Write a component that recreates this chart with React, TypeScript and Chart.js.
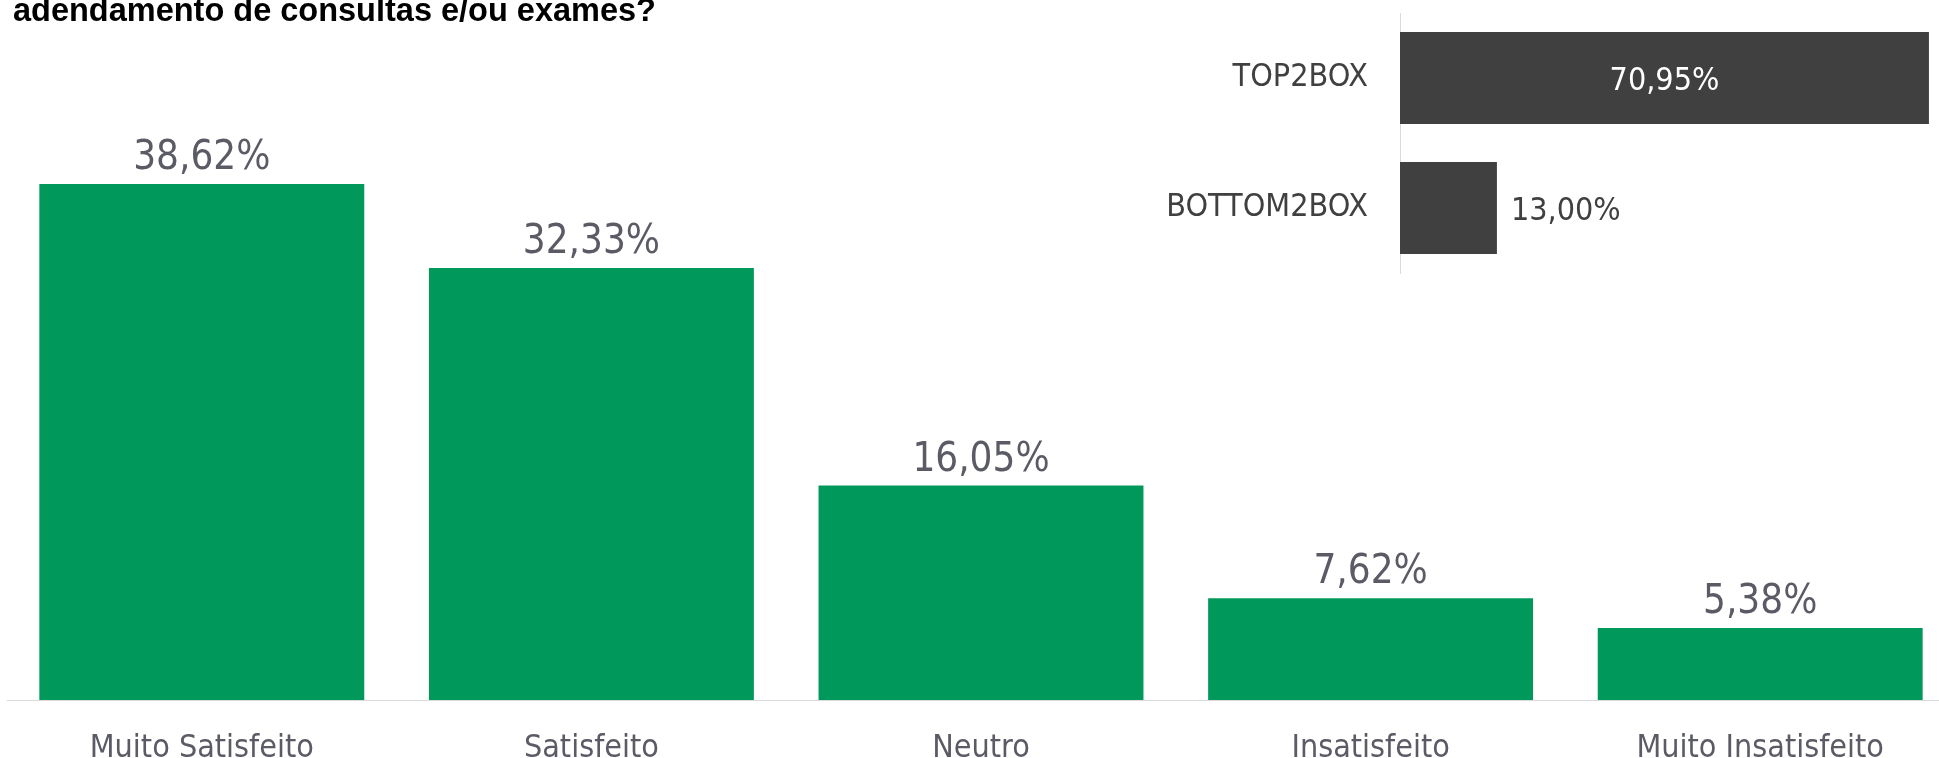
import React, { useEffect, useRef } from "react";
import { Chart, registerables } from "chart.js";

Chart.register(...registerables);

// ---- data ----
const categories = ["Muito Satisfeito", "Satisfeito", "Neutro", "Insatisfeito", "Muito Insatisfeito"];
const values = [38.62, 32.33, 16.05, 7.62, 5.38];
const boxCategories = ["TOP2BOX", "BOTTOM2BOX"];
const boxValues = [70.95, 13.0];
const titleText = "adendamento de consultas e/ou exames?";

const FONT = "'DejaVu Sans Condensed', 'DejaVu Sans', sans-serif";
const GREEN = "#00985B";
const DARK = "#404040";
const LABEL_GRAY = "#5b5b66";
const AXIS_GRAY = "#d9d9d9";

const fmt = (v: number) => v.toFixed(2).replace(".", ",") + "%";

const mainLabelsPlugin = {
  id: "mainLabels",
  afterDatasetsDraw(chart: any) {
    const ctx = chart.ctx;
    const meta = chart.getDatasetMeta(0);
    ctx.save();
    ctx.font = `40px ${FONT}`;
    ctx.fillStyle = LABEL_GRAY;
    ctx.textAlign = "center";
    ctx.textBaseline = "alphabetic";
    meta.data.forEach((el: any, i: number) => {
      ctx.fillText(fmt(values[i]), el.x, el.y - 15);
    });
    ctx.restore();
  },
};

const boxLabelsPlugin = {
  id: "boxLabels",
  afterDatasetsDraw(chart: any) {
    const ctx = chart.ctx;
    const meta = chart.getDatasetMeta(0);
    ctx.save();
    ctx.font = `32px ${FONT}`;
    ctx.textBaseline = "alphabetic";
    meta.data.forEach((el: any, i: number) => {
      const v = boxValues[i];
      const inside = v > 30;
      ctx.fillStyle = inside ? "#ffffff" : DARK;
      ctx.textAlign = inside ? "center" : "left";
      const x = inside ? (el.base + el.x) / 2 : el.x + 14;
      ctx.fillText(fmt(v), x, el.y + 12);
    });
    ctx.restore();
  },
};

export default function App() {
  const mainRef = useRef<HTMLCanvasElement>(null);
  const boxRef = useRef<HTMLCanvasElement>(null);

  useEffect(() => {
    const main = new Chart(mainRef.current as HTMLCanvasElement, {
      type: "bar",
      data: {
        labels: categories,
        datasets: [
          {
            data: values,
            backgroundColor: GREEN,
            barPercentage: 0.834,
            categoryPercentage: 1,
          },
        ],
      },
      options: {
        animation: false,
        responsive: false,
        maintainAspectRatio: false,
        layout: { padding: { left: 7, right: 5, top: 32, bottom: 0 } },
        plugins: {
          legend: { display: false },
          tooltip: { enabled: false },
          title: { display: false },
        },
        scales: {
          x: {
            grid: { display: false, drawTicks: false },
            border: { display: true, color: AXIS_GRAY, width: 1 },
            ticks: {
              color: LABEL_GRAY,
              font: { family: FONT, size: 32 },
              padding: 29,
              maxRotation: 0,
              autoSkip: false,
            },
            afterFit: (s: any) => {
              s.height = 58;
            },
          },
          y: { display: false, min: 0, max: 50 },
        },
      },
      plugins: [mainLabelsPlugin],
    } as any);

    const box = new Chart(boxRef.current as HTMLCanvasElement, {
      type: "bar",
      data: {
        labels: boxCategories,
        datasets: [
          {
            data: boxValues,
            backgroundColor: DARK,
            barPercentage: 0.708,
            categoryPercentage: 1,
          },
        ],
      },
      options: {
        indexAxis: "y",
        animation: false,
        responsive: false,
        maintainAspectRatio: false,
        layout: { padding: { top: 13, bottom: 17, left: 0, right: 0 } },
        plugins: {
          legend: { display: false },
          tooltip: { enabled: false },
          title: { display: false },
        },
        scales: {
          x: { display: false, min: 0, max: 72.3 },
          y: {
            grid: { display: false, drawTicks: false },
            border: { display: true, color: AXIS_GRAY, width: 1 },
            ticks: {
              color: DARK,
              font: { family: FONT, size: 32 },
              padding: 32,
              crossAlign: "near",
            },
            afterFit: (s: any) => {
              s.width = 300;
              s.paddingTop = 0;
              s.paddingBottom = 0;
            },
          },
        },
      },
      plugins: [boxLabelsPlugin],
    } as any);

    return () => {
      main.destroy();
      box.destroy();
    };
  }, []);

  return (
    <div
      style={{
        position: "absolute",
        left: 0,
        top: 0,
        width: 1939,
        height: 758,
        overflow: "hidden",
        background: "#ffffff",
      }}
    >
      <canvas
        ref={mainRef}
        width={1960}
        height={758}
        style={{ position: "absolute", left: 0, top: 0, width: 1960, height: 758 }}
      />
      <canvas
        ref={boxRef}
        width={839}
        height={290}
        style={{ position: "absolute", left: 1100, top: 0, width: 839, height: 290 }}
      />
      <div
        style={{
          position: "absolute",
          left: 13,
          top: -6,
          font: "bold 32.5px 'Liberation Sans', Arial, sans-serif",
          lineHeight: "33px",
          whiteSpace: "nowrap",
          color: "#000000",
        }}
      >
        {titleText}
      </div>
    </div>
  );
}
